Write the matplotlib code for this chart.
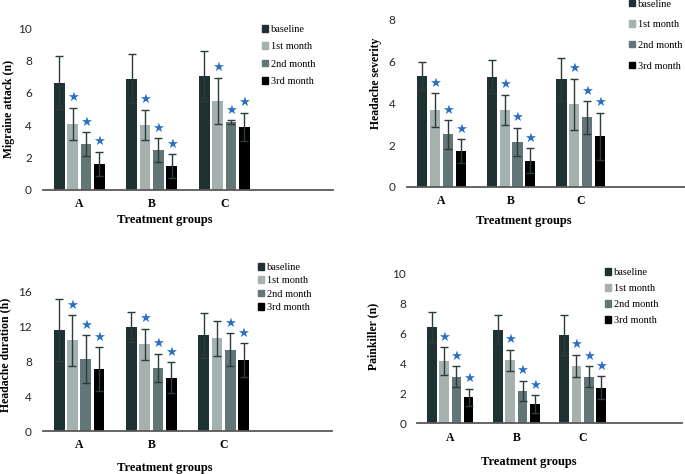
import numpy as np
import matplotlib
matplotlib.use('Agg')
import matplotlib.pyplot as plt
from matplotlib.patches import Patch

groups = ['A', 'B', 'C']
series = ['baseline', '1st month', '2nd month', '3rd month']
colors = ['#1e3234', '#a4b1ae', '#627577', '#000000']

# rows = series (baseline, 1st, 2nd, 3rd), cols = groups A, B, C
migraine_mean = [[6.64, 6.89, 7.05], [4.08, 4.02, 5.50], [2.82, 2.47, 4.21], [1.61, 1.48, 3.92]]
migraine_err = [[1.65, 1.53, 1.55], [1.00, 0.95, 1.44], [0.74, 0.72, 0.10], [0.76, 0.72, 0.87]]
migraine_star = [[0, 0, 0], [1, 1, 1], [1, 1, 1], [1, 1, 1]]

severity_mean = [[5.31, 5.28, 5.15], [3.68, 3.68, 3.95], [2.51, 2.16, 3.33], [1.71, 1.25, 2.42]]
severity_err = [[0.69, 0.78, 1.04], [0.80, 0.74, 1.23], [0.69, 0.67, 0.78], [0.56, 0.60, 1.13]]
severity_star = [[0, 0, 0], [1, 1, 1], [1, 1, 1], [1, 1, 1]]

duration_mean = [[11.57, 11.99, 11.00], [10.42, 9.96, 10.65], [8.24, 7.24, 9.35], [7.09, 6.13, 8.16]]
duration_err = [[3.56, 1.72, 2.56], [2.90, 1.80, 2.00], [2.76, 1.65, 1.88], [2.53, 1.76, 1.92]]
duration_star = [[0, 0, 0], [1, 1, 0], [1, 1, 1], [1, 1, 1]]

painkiller_mean = [[6.43, 6.25, 5.88], [4.15, 4.19, 3.81], [3.10, 2.17, 3.10], [1.73, 1.26, 2.37]]
painkiller_err = [[0.98, 0.95, 1.33], [0.93, 0.71, 0.75], [0.69, 0.67, 0.69], [0.58, 0.60, 0.78]]
painkiller_star = [[0, 0, 0], [1, 1, 1], [1, 1, 1], [1, 1, 1]]

W, H = 685, 474
SERIF = 'Liberation Serif'
SANS = 'Lato'

fig = plt.figure(figsize=(W / 100, H / 100), dpi=100)


def px_axes(left, right, top, bottom):
    # pixel box -> figure fraction rect
    return [left / W, (H - bottom) / H, (right - left) / W, (bottom - top) / H]


def panel(rect, means, errs, stars, ylim, yticks, ylabel, lab_pos, leg_pos, leg_space):
    ax = fig.add_axes(rect)
    x = np.arange(len(groups))
    step, width = 0.184, 0.148
    for i, name in enumerate(series):
        xs = x + (i - 1.5) * step
        ax.bar(xs, means[i], width, color=colors[i], label=name, zorder=2)
        ax.errorbar(xs, means[i], yerr=errs[i], fmt='none', ecolor='#2c3c3d',
                    elinewidth=1.0, capsize=3, capthick=1.0, zorder=3)
        for j in range(len(groups)):
            if stars[i][j]:
                ax.annotate('\u2605', xy=(xs[j], means[i][j] + errs[i][j]),
                            xytext=(0, 2.5), textcoords='offset points',
                            ha='center', va='bottom', color='#2a6fc4',
                            fontsize=9.5, family='DejaVu Sans', zorder=4)
    ax.set_xlim(-0.5, 3.5)
    ax.set_ylim(*ylim)
    ax.set_yticks(yticks)
    ax.set_yticklabels([str(t) for t in yticks], family=SANS, fontsize=8.5, color='#262626')
    ax.set_xticks(x)
    ax.set_xticklabels(groups, family=SERIF, fontweight='bold', fontsize=8.5)
    ax.tick_params(axis='both', length=0)
    ax.tick_params(axis='y', pad=8)
    ax.tick_params(axis='x', pad=6)
    for s in ['top', 'right', 'left']:
        ax.spines[s].set_visible(False)
    ax.spines['bottom'].set_color('#595959')
    ax.spines['bottom'].set_linewidth(1.3)
    ax.set_xlabel('Treatment groups', family=SERIF, fontweight='bold', fontsize=9)
    ax.xaxis.set_label_coords(0.42, lab_pos[2])
    ax.set_ylabel(ylabel, family=SERIF, fontweight='bold', fontsize=8.5)
    ax.yaxis.set_label_coords(lab_pos[0], lab_pos[1])
    handles = [Patch(color=c) for c in colors]
    ax.legend(handles, series, loc='upper left',
              bbox_to_anchor=(leg_pos[0] / W, (H - leg_pos[1]) / H),
              bbox_transform=fig.transFigure, frameon=False, borderpad=0,
              borderaxespad=0, handlelength=0.6, handleheight=0.6,
              handletextpad=0.25, labelspacing=leg_space,
              prop={'family': SERIF, 'size': 7.5})
    return ax


panel(px_axes(43, 333, 28.3, 190), migraine_mean, migraine_err, migraine_star,
      (0, 10), [0, 2, 4, 6, 8, 10], 'Migraine attack (n)', (-0.097, 0.5, -0.148),
      (262, 25), 0.8)
panel(px_axes(406.7, 685, 20, 186.7), severity_mean, severity_err, severity_star,
      (0, 8), [0, 2, 4, 6, 8], 'Headache severity', (-0.09, 0.62, -0.167),
      (629, -0.5), 1.12)
panel(px_axes(43, 332, 291.7, 431), duration_mean, duration_err, duration_star,
      (0, 16), [0, 4, 8, 12, 16], 'Headache duration (h)', (-0.11, 0.547, -0.223),
      (258, 263), 0.42)
panel(px_axes(417.3, 681.7, 273.3, 423.3), painkiller_mean, painkiller_err, painkiller_star,
      (0, 10), [0, 2, 4, 6, 8, 10], 'Painkiller (n)', (-0.144, 0.577, -0.218),
      (605, 268), 0.67)

fig.savefig('out.png', dpi=100)
